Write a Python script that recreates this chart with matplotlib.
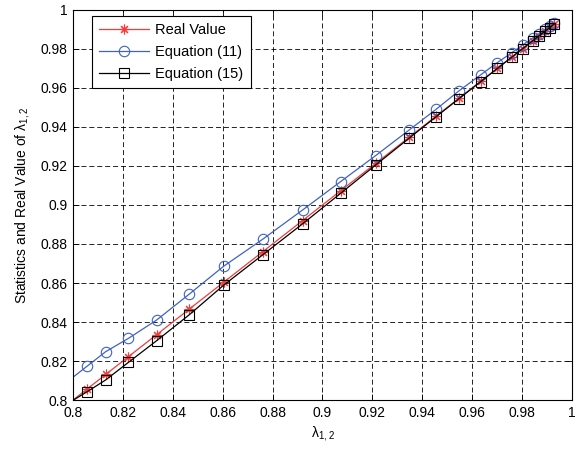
import numpy as np
import matplotlib.pyplot as plt
from matplotlib.ticker import FuncFormatter

plt.rcParams['font.family'] = ['Liberation Sans', 'DejaVu Sans']
plt.rcParams['mathtext.fontset'] = 'custom'
plt.rcParams['mathtext.rm'] = 'Liberation Sans'
plt.rcParams['mathtext.default'] = 'regular'

# lambda_{1,2} sampling points
lam = [0.797, 0.8057, 0.8131, 0.8222, 0.8335, 0.8465, 0.8605, 0.876, 0.892,
       0.9073, 0.9213, 0.9348, 0.9455, 0.9547, 0.9634, 0.9701, 0.9758,
       0.9802, 0.9842, 0.9868, 0.9892, 0.9910, 0.9928]
# real value
real_val = [0.797, 0.8057, 0.8131, 0.8222, 0.8335, 0.8465, 0.8605, 0.876, 0.892,
            0.9073, 0.9213, 0.9348, 0.9455, 0.9547, 0.9634, 0.9701, 0.9758,
            0.9802, 0.9842, 0.9868, 0.9892, 0.9910, 0.9928]
# statistic from eq. (11)
eq11 = [0.8087, 0.8174, 0.8248, 0.8316, 0.8410, 0.8542, 0.8687, 0.8824, 0.8974,
        0.9120, 0.9253, 0.9385, 0.9490, 0.9585, 0.9667, 0.9730, 0.9780,
        0.9820, 0.9855, 0.9878, 0.9900, 0.9916, 0.9932]
# statistic from eq. (15)
eq15 = [0.7975, 0.8043, 0.8103, 0.8193, 0.8304, 0.8436, 0.8590, 0.8744, 0.8903,
        0.9060, 0.9205, 0.9343, 0.9452, 0.9545, 0.9632, 0.9700, 0.9757,
        0.9801, 0.9841, 0.9867, 0.9891, 0.9909, 0.9927]

fig = plt.figure(figsize=(5.77, 4.5), dpi=100)
ax = fig.add_axes([0.1265, 0.111, 0.8648, 0.867])

# asterisk marker like matlab's '*'
ast = (8, 2, 0)
ax.plot(lam, real_val, color='#f03c3c', lw=0.9, marker=ast, ms=7,
        mfc='none', mec='#f03c3c', mew=0.8, label='Real Value')
ax.plot(lam, eq11, color='#4062c4', lw=0.9, marker='o', ms=7.5,
        mfc='none', mec='#4062c4', mew=0.8, label='Equation (11)')
ax.plot(lam, eq15, color='black', lw=0.9, marker='s', ms=7,
        mfc='none', mec='black', mew=0.8, label='Equation (15)')

ax.set_xlim(0.8, 1)
ax.set_ylim(0.8, 1)
ticks = np.arange(0.8, 1.0001, 0.02)
ax.set_xticks(ticks)
ax.set_yticks(ticks)
fmt = FuncFormatter(lambda v, p: '%g' % round(v, 2))
ax.xaxis.set_major_formatter(fmt)
ax.yaxis.set_major_formatter(fmt)
ax.tick_params(direction='in', top=True, right=True, length=4, width=0.6,
               labelsize=10, pad=4)
ax.grid(True, color='black', linestyle=(0, (6, 3.5)), linewidth=0.6)
for s in ax.spines.values():
    s.set_linewidth(0.8)

ax.set_xlabel('λ$_{1,2}$', fontsize=10, labelpad=3)
ax.set_ylabel('Statistics and Real Value of λ$_{1,2}$', fontsize=10, labelpad=6)

leg = ax.legend(loc='upper left', bbox_to_anchor=(0.038, 0.985),
                borderaxespad=0, fontsize=10.5, handlelength=3.4,
                handletextpad=0.45, fancybox=False, framealpha=1,
                edgecolor='black', labelspacing=0.55, borderpad=0.5)
leg.get_frame().set_linewidth(0.8)

fig.savefig('out.png', dpi=100)
